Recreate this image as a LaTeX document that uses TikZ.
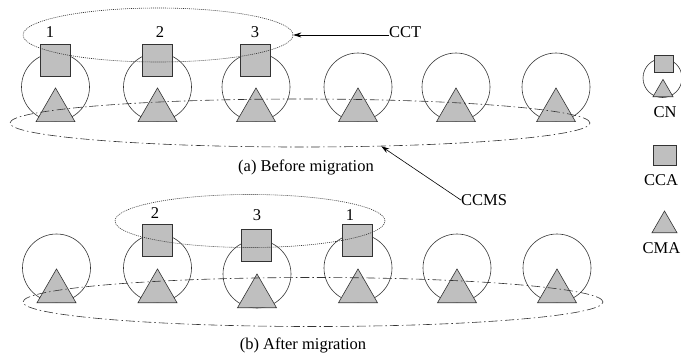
\documentclass[tikz,border=0pt]{standalone}
\usepackage{fontspec}
\setmainfont{Liberation Serif}
\usetikzlibrary{shapes.geometric,arrows.meta}

\tikzset{
	cn/.style={circle, draw=black!80, line width=0.6pt, inner sep=0pt, minimum size=68pt},
	cca/.style={rectangle, draw=black!80, fill=black!25, line width=0.6pt, inner sep=0pt, minimum width=30pt, minimum height=32pt},
	cma/.style={regular polygon, regular polygon sides=3, draw=black!80, fill=black!25, line width=0.6pt, inner sep=0pt, minimum size=45pt, anchor=south},
	cct/.style={ellipse, draw=black!80, line width=0.6pt, dash pattern=on 1pt off 1pt, inner sep=0pt},
	ccms/.style={ellipse, draw=black!80, line width=0.6pt, dash pattern=on 9pt off 3pt on 1.5pt off 3pt, inner sep=0pt},
	lbl/.style={inner sep=0pt, font=\fontsize{16.5}{19}\selectfont}
}

\begin{document}
\begin{tikzpicture}[x=1pt, y=-1pt]
			%%%%% START %%%%%
			\useasboundingbox (0, 0) rectangle (681, 359);
			
			% (a) before migration
			\node[cn] (ca1) at (55.5, 87) {};
			\node[cn] (ca2) at (157.5, 87) {};
			\node[cn] (ca3) at (256, 87) {};
			\node[cn] (ca4) at (358, 87) {};
			\node[cn] (ca5) at (456, 87) {};
			\node[cn] (ca6) at (556, 87) {};
			
			\node[cca] (sa1) at (55, 60) {};
			\node[cca] (sa2) at (157, 60) {};
			\node[cca] (sa3) at (255.5, 60) {};
			
			\node[cma] (ta1) at (55.5, 122) {};
			\node[cma] (ta2) at (157.5, 122) {};
			\node[cma] (ta3) at (256, 122) {};
			\node[cma] (ta4) at (358, 122) {};
			\node[cma] (ta5) at (456, 122) {};
			\node[cma] (ta6) at (556, 122) {};
			
			\node[lbl] (na1) at (50, 32) {1};
			\node[lbl] (na2) at (160, 32) {2};
			\node[lbl] (na3) at (255, 32) {3};
			
			\node[cct, minimum width=270pt, minimum height=54pt] (ccta) at (158, 35) {};
			\node[ccms, minimum width=580pt, minimum height=48pt] (ccmsa) at (300, 123) {};
			
			\node[lbl] (capa) at (306, 167) {(a) Before migration};
			
			% (b) after migration
			\node[cn] (cb1) at (56.5, 268) {};
			\node[cn] (cb2) at (157.5, 268) {};
			\node[cn] (cb3) at (257, 274) {};
			\node[cn] (cb4) at (358, 268) {};
			\node[cn] (cb5) at (457, 268) {};
			\node[cn] (cb6) at (557, 268) {};
			
			\node[cca] (sb2) at (157, 240.5) {};
			\node[cca] (sb3) at (256, 245.5) {};
			\node[cca] (sb1) at (357, 240.5) {};
			
			\node[cma] (tb1) at (56.5, 303) {};
			\node[cma] (tb2) at (157.5, 303) {};
			\node[cma] (tb3) at (257, 308) {};
			\node[cma] (tb4) at (358, 303) {};
			\node[cma] (tb5) at (457, 303) {};
			\node[cma] (tb6) at (557, 303) {};
			
			\node[lbl] (nb2) at (155, 213) {2};
			\node[lbl] (nb3) at (257, 215) {3};
			\node[lbl] (nb1) at (350, 215) {1};
			
			\node[cct, minimum width=270pt, minimum height=53pt] (cctb) at (250, 221) {};
			\node[ccms, minimum width=580pt, minimum height=49pt] (ccmsb) at (313, 302) {};
			
			\node[lbl] (capb) at (303, 345) {(b) After migration};
			
			% labels with arrows
			\node[lbl, anchor=base west] (lcct) at (389, 37) {CCT};
			\draw[line width=0.6pt, -{Stealth[length=8pt, width=5pt]}] ([yshift=2pt]lcct.base west) -- (ccta.east);
			
			\node[lbl] (lccms) at (484, 200) {CCMS};
			\draw[line width=0.6pt, -{Stealth[length=8pt, width=5pt]}] (lccms.west) -- (ccmsa.-16);
			
			% legend
			\node[cn, minimum size=39pt] (gcn) at (662.5, 78) {};
			\node[cca, minimum width=19pt, minimum height=17pt] (gcnsq) at (663.5, 63.5) {};
			\node[cma, minimum size=23.1pt] (gcntr) at (663, 97) {};
			\node[lbl] (tcn) at (665, 112) {CN};
			
			\node[cca, minimum width=23pt, minimum height=20pt] (gcca) at (664.5, 155) {};
			\node[lbl] (tcca) at (661, 180) {CCA};
			
			\node[cma, minimum size=28.9pt] (gcma) at (664.5, 233) {};
			\node[lbl] (tcma) at (661.5, 248.5) {CMA};
			
			%%%%% END %%%%%
\end{tikzpicture}
\end{document}
